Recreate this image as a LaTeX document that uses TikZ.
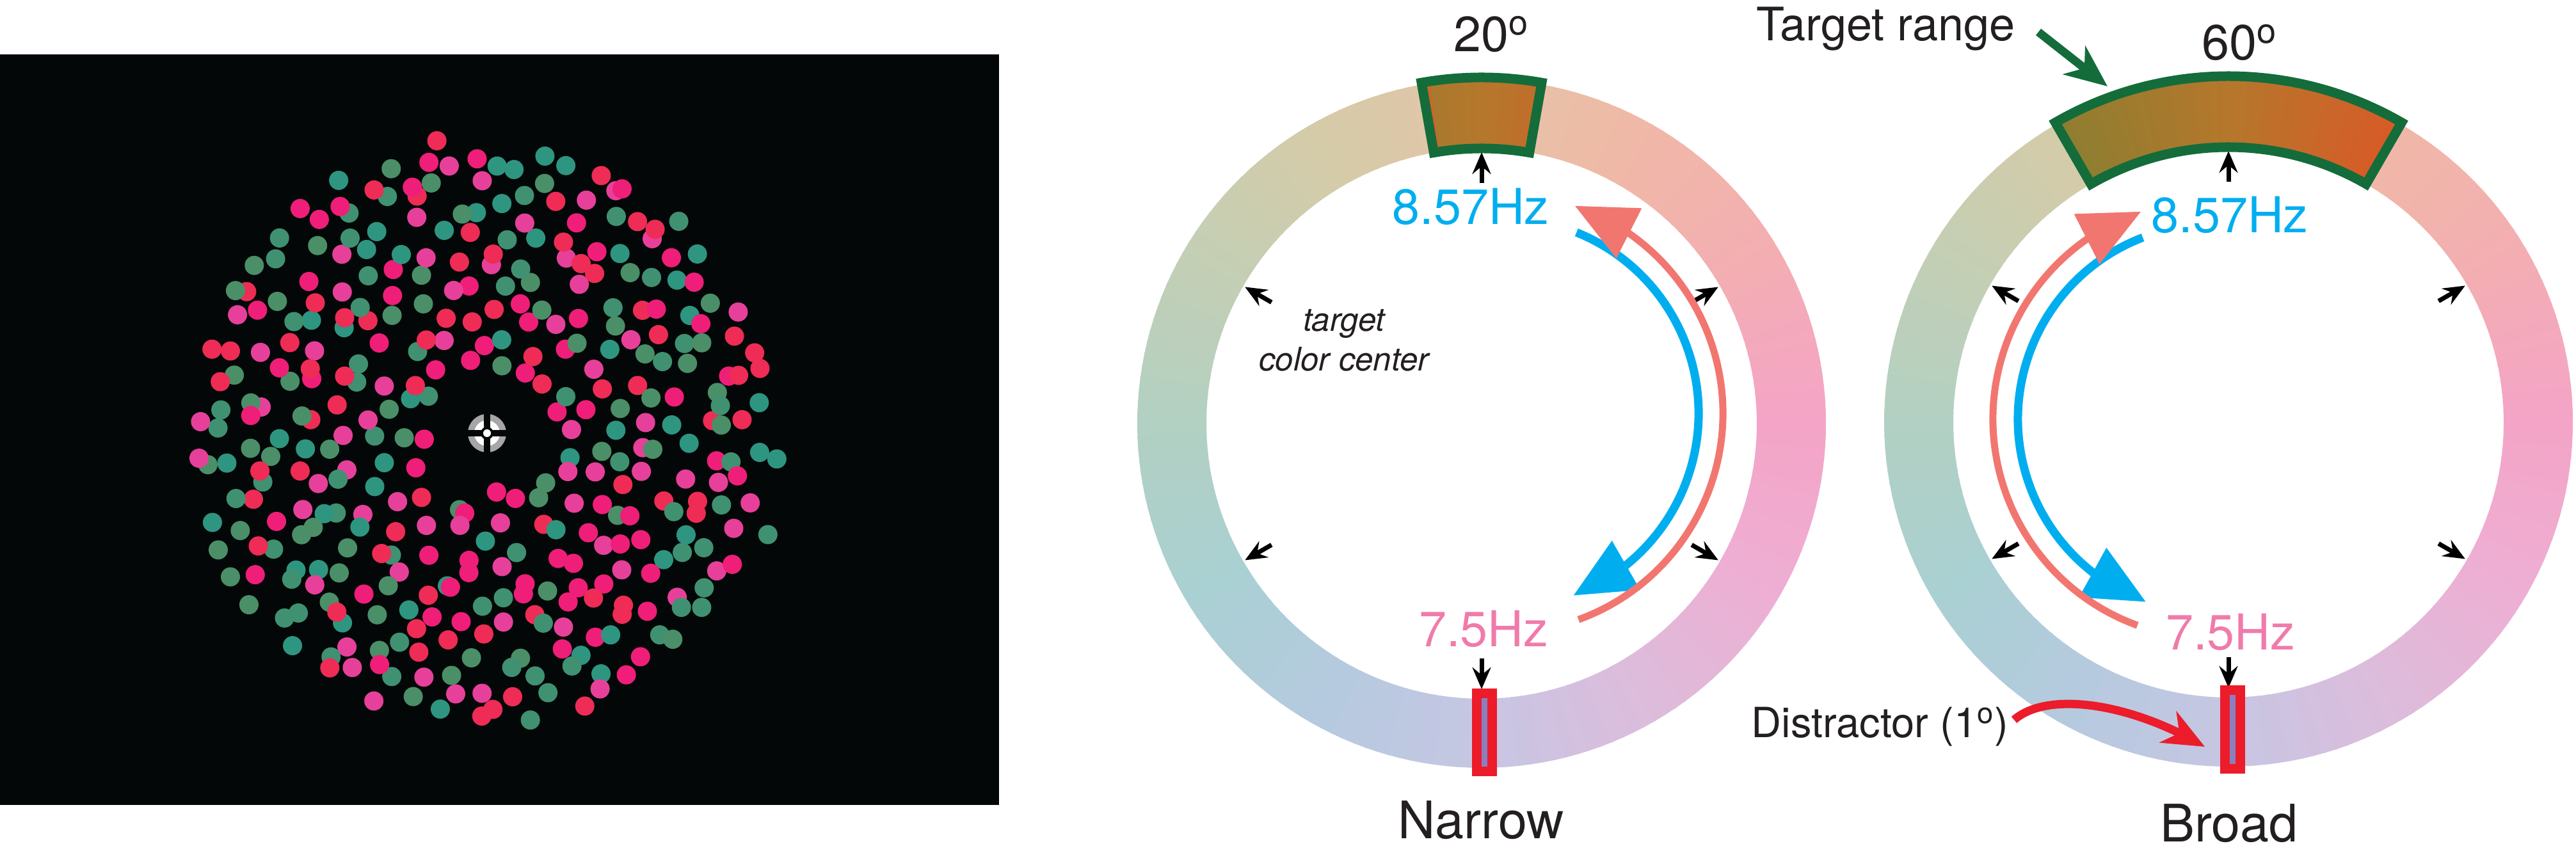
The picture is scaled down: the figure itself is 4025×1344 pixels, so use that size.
\documentclass[tikz,border=0pt]{standalone}
\usepackage{fontspec}
\setmainfont{TeX Gyre Heros}
\usetikzlibrary{arrows.meta,bending}
\definecolor{ink}{HTML}{231F20}
\definecolor{bgblack}{HTML}{040708}
\definecolor{hzblue}{HTML}{00AEEF}
\definecolor{hzpink}{HTML}{F07BAB}
\definecolor{arcred}{HTML}{F27670}
\definecolor{tgreen}{HTML}{146C3A}
\definecolor{dred}{HTML}{EC1C2A}
\definecolor{dpurple}{HTML}{8A80BF}
\definecolor{wk0}{HTML}{F4A4C6}
\definecolor{wk1}{HTML}{F3AEB2}
\definecolor{wk2}{HTML}{F0B8A7}
\definecolor{wk3}{HTML}{E4C5A7}
\definecolor{wk4}{HTML}{D4CBA9}
\definecolor{wk5}{HTML}{C3CFB5}
\definecolor{wk6}{HTML}{B2D0C3}
\definecolor{wk7}{HTML}{A9D0D2}
\definecolor{wk8}{HTML}{B5CADF}
\definecolor{wk9}{HTML}{C7C6E3}
\definecolor{wk10}{HTML}{DDBCDB}
\definecolor{wk11}{HTML}{EEAED3}
\definecolor{s60}{HTML}{D85B27}
\definecolor{s90}{HTML}{B5772C}
\definecolor{s120}{HTML}{8E7E30}
\definecolor{dot0}{HTML}{EF1E78}
\definecolor{dot1}{HTML}{EE2C55}
\definecolor{dot2}{HTML}{E7409A}
\definecolor{dot3}{HTML}{3F9172}
\definecolor{dot4}{HTML}{2E9580}
\definecolor{dot5}{HTML}{4A8F67}

\newcommand\annseg[5]{\fill[fill=#1] (#2:#4) arc[start angle=#2,end angle=#3,radius=#4] -- (#3:#5) arc[start angle=#3,end angle=#2,radius=#5] -- cycle;}
\newcommand\colorring{%
  \foreach \k in {0,...,11}{%
    \pgfmathtruncatemacro\kn{mod(\k+1,12)}%
    \foreach \j in {0,...,14}{%
      \pgfmathtruncatemacro\pc{100-\j*100/15}%
      \pgfmathsetmacro\segA{\k*30+\j*2}%
      \pgfmathsetmacro\segB{\segA+2.5}%
      \annseg{wk\k!\pc!wk\kn}{\segA}{\segB}{430}{538}%
    }}}
\newcommand\satfill[2]{%
  \foreach \sa in {#1,...,#2}{%
    \pgfmathtruncatemacro\sp{abs(\sa+0.5-90)*100/30}%
    \ifnum\sa<90 \def\sc{s60}\else\def\sc{s120}\fi
    \pgfmathsetmacro\sb{\sa+1.3}%
    \annseg{\sc!\sp!s90}{\sa}{\sb}{430}{541}}}
\newcommand\tickarrows{%
  \foreach \t/\r in {30/427,90/424,150/427,210/427,270/415,330/427}{%
    \draw[ticka] (\t:\r-48) -- (\t:\r);}}

\begin{document}
\begin{tikzpicture}[x=0.1mm,y=0.1mm,
  lbl/.style={inner sep=0pt, text=ink, anchor=base},
  ticka/.style={-{Stealth[length=3.4mm,width=2.9mm,inset=1.2mm]}, line width=0.7mm, black},
  bluearc/.style={draw=hzblue, line width=1.3mm, -{Triangle[length=9.5mm,width=8.5mm]}},
  redarc/.style={draw=arcred, line width=1.1mm, -{Triangle[length=9.5mm,width=8.5mm]}},
  boxline/.style={draw=tgreen, line width=1.5mm, line join=miter},
  distbox/.style={draw=dred, fill=dpurple, line width=1.5mm, line join=miter}]
\useasboundingbox (0,0) rectangle (4025,1344);

% ---------------- left panel: stimulus ----------------
\fill[bgblack] (0,86) rectangle (1561,1259);
\begin{scope}[shift={(757,665)}]
  \pgfmathsetseed{2718}
  \foreach \i in {1,...,370}{%
    \pgfmathsetmacro\dotr{457*sqrt(0.05+0.95*(\i-0.5)/370)}%
    \pgfmathsetmacro\dotth{360*(\i*0.381966-floor(\i*0.381966))}%
    \pgfmathsetmacro\dotx{\dotr*cos(\dotth)+16*rand}%
    \pgfmathsetmacro\doty{\dotr*sin(\dotth)+16*rand}%
    \pgfmathtruncatemacro\dotc{int(5.999*rnd)}%
    \fill[fill=dot\dotc] (\dotx,\doty) circle[radius=15];}
\end{scope}
\coordinate (fix) at (761,667);
\fill[gray!70] (fix) circle[radius=30];
\fill[white] (fix) circle[radius=20];
\fill[bgblack] ([shift={(-32,-5)}]fix) rectangle ([shift={(32,5)}]fix);
\fill[bgblack] ([shift={(-5,-32)}]fix) rectangle ([shift={(5,32)}]fix);
\fill[bgblack] (fix) circle[radius=10];
\fill[white] (fix) circle[radius=6];

% ---------------- narrow ring ----------------
\coordinate (NC) at (2315,682);
\coordinate (NA) at (2349,698);
\begin{scope}[shift={(NC)}]
  \colorring
  \satfill{80}{98}
  \annseg{s90!40!s60}{98.7}{100}{430}{541}
  \draw[boxline] (80:430) arc[start angle=80,end angle=100,radius=430] -- (100:541) arc[start angle=100,end angle=80,radius=541] -- cycle;
  \tickarrows
\end{scope}
\draw[distbox] (2307,138) rectangle (2331,260);

% ---------------- broad ring ----------------
\coordinate (BC) at (3482,684);
\coordinate (BA) at (3457,689);
\begin{scope}[shift={(BC)}]
  \colorring
  \satfill{60}{118}
  \annseg{s120}{118.7}{120}{430}{541}
  \draw[boxline] (60:430) arc[start angle=60,end angle=120,radius=430] -- (120:541) arc[start angle=120,end angle=60,radius=541] -- cycle;
  \tickarrows
\end{scope}
\draw[distbox] (3476,142) rectangle (3500,265);

% ---------------- frequency arcs ----------------
\coordinate (nb0) at ([shift={(68:305)}]NA);
\coordinate (nr0) at ([shift={(-70:343)}]NA);
\draw[bluearc] (nb0) arc[start angle=68,end angle=-69,radius=305];
\draw[redarc] (nr0) arc[start angle=-70,end angle=71,radius=343];
\coordinate (bb0) at ([shift={(111:304)}]BA);
\coordinate (br0) at ([shift={(250:343)}]BA);
\draw[bluearc] (bb0) arc[start angle=111,end angle=250,radius=304];
\draw[redarc] (br0) arc[start angle=250,end angle=109,radius=343];

% ---------------- labels ----------------
\node[lbl, font=\fontsize{22}{26}\selectfont] (n20) at (2330,1263) {20\textsuperscript{o}};
\node[lbl, font=\fontsize{22}{26}\selectfont] (n60) at (3499,1250) {60\textsuperscript{o}};
\node[lbl, text=hzblue, font=\fontsize{22}{26}\selectfont] (nhz1) at (2298,993) {8.57Hz};
\node[lbl, text=hzpink, font=\fontsize{22}{26}\selectfont] (nhz2) at (2318,333) {7.5Hz};
\node[lbl, text=hzblue, font=\fontsize{22}{26}\selectfont] (bhz1) at (3484,980) {8.57Hz};
\node[lbl, text=hzpink, font=\fontsize{22}{26}\selectfont] (bhz2) at (3485,328) {7.5Hz};
\node[lbl, font=\fontsize{23}{27}\selectfont] (narrow) at (2314,33) {Narrow};
\node[lbl, font=\fontsize{23}{27}\selectfont] (broad) at (3483,28) {Broad};
\node[lbl, anchor=base west, font=\fontsize{20.5}{24}\selectfont] (trange) at (2744,1280) {Target range};
\node[lbl, anchor=base west, font=\fontsize{18.5}{22}\selectfont] (distr) at (2736,191) {Distractor (1\textsuperscript{o})};
\node[inner sep=0pt, text=ink, align=center, font=\fontsize{14.5}{17.5}\selectfont\itshape] (tcc) at (2100,812) {target\\color center};

% ---------------- pointer arrows ----------------
\coordinate (tra) at (3185,1294);
\coordinate (trb) at (3293,1209);
\draw[draw=tgreen, line width=1.3mm, -{Stealth[length=6.6mm,width=5.6mm,inset=2mm]}] (tra) -- (trb);
\coordinate (dsa) at (3147,219);
\coordinate (dsb) at (3445,177);
\draw[draw=dred, line width=1.3mm, -{Stealth[length=6.5mm,width=5.5mm,inset=2mm]}] (dsa) .. controls (3200,265) and (3330,245) .. (dsb);
\end{tikzpicture}
\end{document}
